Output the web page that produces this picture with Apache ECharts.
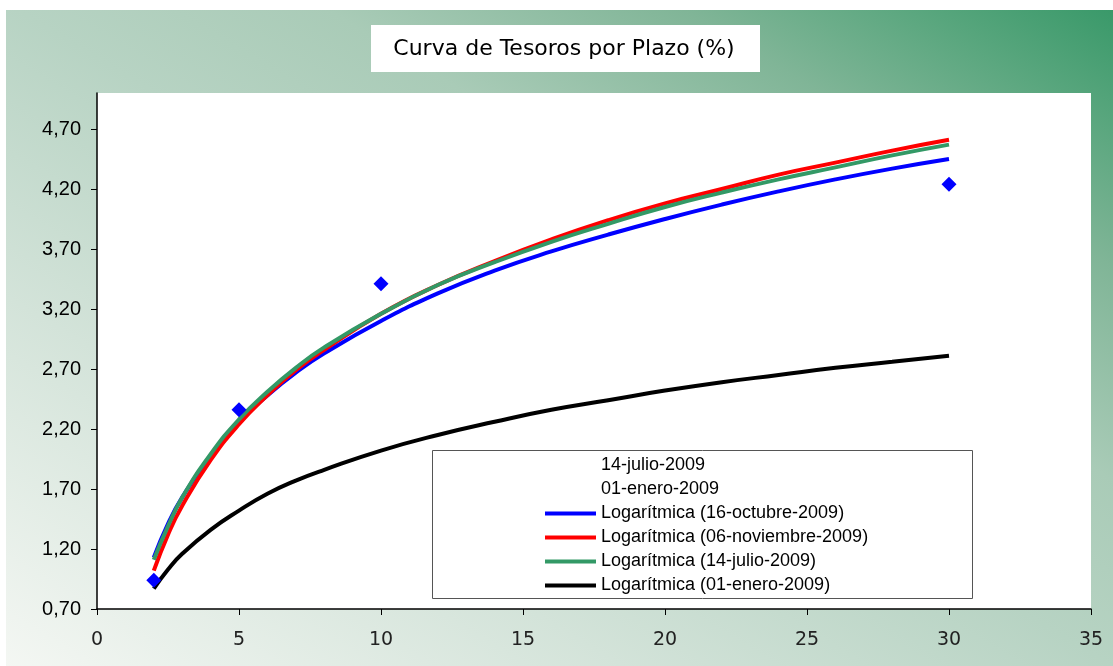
<!DOCTYPE html>
<html>
<head>
<meta charset="utf-8">
<script src="https://cdn.jsdelivr.net/npm/echarts@6/dist/echarts.min.js"></script>
<style>
  html, body { margin: 0; padding: 0; background: #fff; }
  #main { width: 1113px; height: 666px; }
</style>
</head>
<body>
<div id="main"></div>
<script>
// plazos (años) en los que se leen las curvas
var plazos = [2, 2.5, 3, 4, 5, 6, 7, 8, 10, 12, 14, 16, 18, 20, 22, 24, 26, 28, 30];
// curvas logarítmicas
var logOctubre   = [1.13, 1.41, 1.63, 1.98, 2.26, 2.48, 2.67, 2.83, 3.10, 3.33, 3.52, 3.68, 3.82, 3.95, 4.07, 4.18, 4.28, 4.37, 4.45];
var logNoviembre = [1.02, 1.32, 1.56, 1.94, 2.24, 2.48, 2.69, 2.86, 3.16, 3.40, 3.60, 3.78, 3.94, 4.08, 4.20, 4.32, 4.42, 4.52, 4.61];
var logJulio     = [1.11, 1.39, 1.63, 1.99, 2.28, 2.51, 2.71, 2.88, 3.16, 3.40, 3.59, 3.76, 3.91, 4.05, 4.17, 4.28, 4.38, 4.48, 4.57];
var logEnero     = [0.87, 1.03, 1.16, 1.36, 1.52, 1.66, 1.77, 1.86, 2.02, 2.15, 2.26, 2.36, 2.44, 2.52, 2.59, 2.65, 2.71, 2.76, 2.81];
// puntos observados (rombos azules)
var puntosX = [2, 5, 10, 30];
var puntosY = [0.94, 2.36, 3.41, 4.24];
// marcas de los ejes
var yTicks = [0.70, 1.20, 1.70, 2.20, 2.70, 3.20, 3.70, 4.20, 4.70];

function pares(xs, ys) {
  return xs.map(function (x, i) { return [x, ys[i]]; });
}

var myChart = echarts.init(document.getElementById("main"));

function curva(nombre, color, valores) {
  return {
    name: nombre,
    type: "line",
    smooth: true,
    showSymbol: false,
    symbol: "none",
    color: color,
    lineStyle: { color: color, width: 4 },
    data: pares(plazos, valores),
    z: 3,
  };
}

var option = {
  animation: false,
  // degradado de esquina superior derecha (verde) a inferior izquierda (casi blanco)
  backgroundColor: new echarts.graphic.LinearGradient(850, -157, 263, 823, [
    { offset: 0, color: "#379868" },
    { offset: 0.1, color: "#5ba77f" },
    { offset: 0.2, color: "#80b597" },
    { offset: 0.36, color: "#a9cbb7" },
    { offset: 0.5, color: "#b7d3c3" },
    { offset: 0.72, color: "#d3e3d9" },
    { offset: 1, color: "#f4f7f3" },
  ], true),
  graphic: [
    // borde blanco exterior
    { type: "rect", shape: { x: 0, y: 0, width: 1113, height: 10 }, style: { fill: "#fff" }, z: 1 },
    { type: "rect", shape: { x: 0, y: 0, width: 6, height: 666 }, style: { fill: "#fff" }, z: 1 },
    // caja del título
    { type: "rect", shape: { x: 371, y: 25, width: 389, height: 47 }, style: { fill: "#fff" }, z: 5 },
    {
      type: "text", x: 564, y: 49, z: 6,
      style: {
        text: "Curva de Tesoros por Plazo (%)",
        fill: "#000",
        font: "22px 'DejaVu Sans'",
        align: "center",
        verticalAlign: "middle",
      },
    },
    // caja de la leyenda
    {
      type: "rect", z: 5,
      shape: { x: 432.5, y: 450.5, width: 540, height: 148 },
      style: { fill: "#fff", stroke: "#555", lineWidth: 1 },
    },
  ],
  grid: {
    left: 97,
    top: 93,
    right: 22,
    bottom: 57,
    show: true,
    backgroundColor: "#fff",
    borderWidth: 0,
    outerBoundsMode: "none",
  },
  legend: {
    orient: "vertical",
    left: 545,
    top: 456,
    padding: 0,
    itemGap: 5,
    itemWidth: 51,
    itemHeight: 4,
    z: 7,
    textStyle: { color: "#000", fontSize: 18, lineHeight: 19, fontFamily: "Liberation Sans" },
    data: [
      { name: "14-julio-2009", icon: "none" },
      { name: "01-enero-2009", icon: "none" },
      { name: "Logarítmica (16-octubre-2009)", icon: "rect" },
      { name: "Logarítmica (06-noviembre-2009)", icon: "rect" },
      { name: "Logarítmica (14-julio-2009)", icon: "rect" },
      { name: "Logarítmica (01-enero-2009)", icon: "rect" },
    ],
  },
  xAxis: {
    type: "value",
    min: 0,
    max: 35,
    interval: 5,
    splitLine: { show: false },
    axisLine: { show: true, lineStyle: { color: "#000", width: 1.5 } },
    axisTick: { show: true, length: 6, lineStyle: { color: "#000" } },
    axisLabel: { color: "#222", fontSize: 19, fontFamily: "DejaVu Sans", margin: 22 },
  },
  yAxis: {
    type: "value",
    min: 0.7,
    max: 5.0,
    splitLine: { show: false },
    axisLine: { show: true, lineStyle: { color: "#000", width: 1.5 } },
    axisTick: { show: true, length: 6, customValues: yTicks, lineStyle: { color: "#000" } },
    axisLabel: {
      customValues: yTicks,
      color: "#000",
      fontSize: 20,
      fontFamily: "Liberation Sans",
      margin: 16,
      formatter: function (v) { return v.toFixed(2).replace(".", ","); },
    },
  },
  series: [
    { name: "14-julio-2009", type: "scatter", symbol: "none", data: [] },
    { name: "01-enero-2009", type: "scatter", symbol: "none", data: [] },
    curva("Logarítmica (16-octubre-2009)", "#0000ff", logOctubre),
    curva("Logarítmica (06-noviembre-2009)", "#ff0000", logNoviembre),
    curva("Logarítmica (14-julio-2009)", "#339966", logJulio),
    curva("Logarítmica (01-enero-2009)", "#000000", logEnero),
    {
      name: "16-octubre-2009",
      type: "scatter",
      symbol: "diamond",
      symbolSize: 15,
      itemStyle: { color: "#0000ff", opacity: 1 },
      data: pares(puntosX, puntosY),
      z: 4,
    },
  ],
};

option && myChart.setOption(option);
</script>
</body>
</html>
